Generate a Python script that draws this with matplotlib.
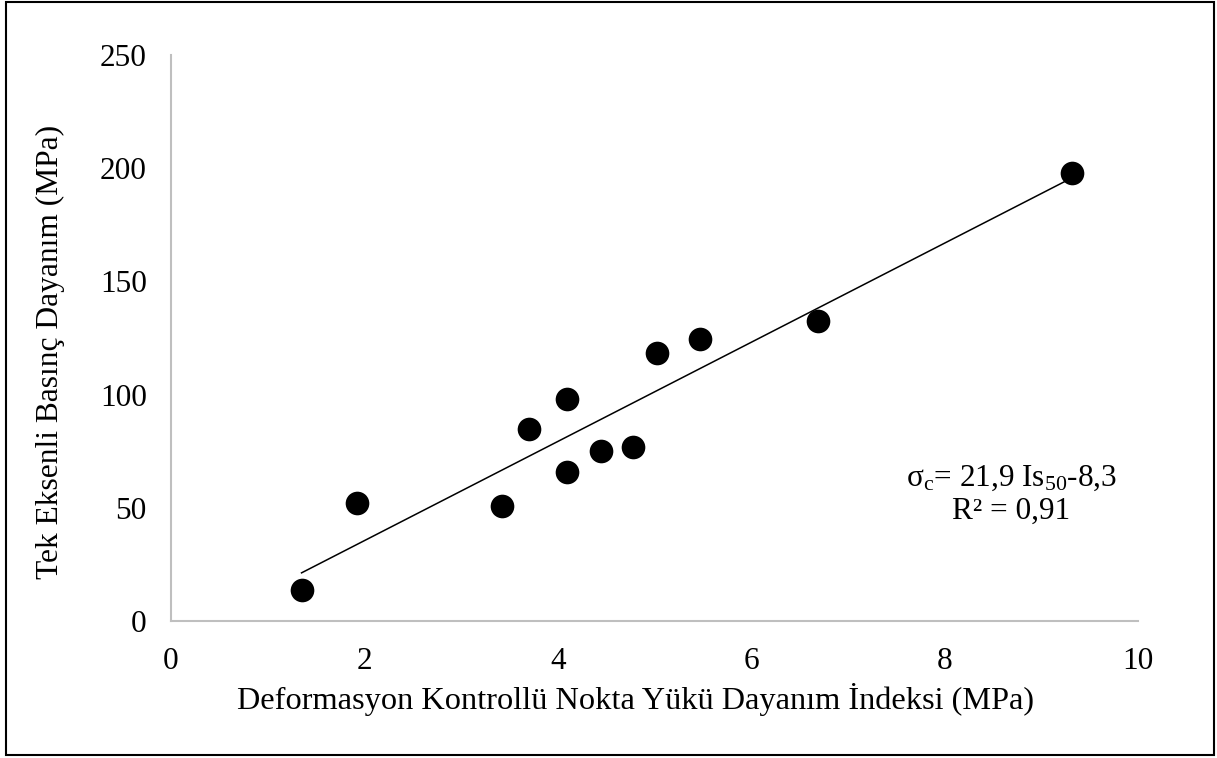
import matplotlib
matplotlib.use("Agg")
import matplotlib.pyplot as plt
from matplotlib.patches import Rectangle
import numpy as np

# Data
is50 = [1.35, 1.92, 3.42, 3.70, 4.10, 4.10, 4.45, 4.78, 5.03, 5.47, 6.69, 9.32]
ucs = [13.5, 52.0, 51.0, 85.0, 98.0, 66.0, 75.0, 77.0, 118.5, 124.5, 132.5, 198.0]
slope = 21.9
intercept = -8.3
x_ticks = [0, 2, 4, 6, 8, 10]
y_ticks = [0, 50, 100, 150, 200, 250]
x_label = "Deformasyon Kontrollü Nokta Yükü Dayanım İndeksi (MPa)"
y_label = "Tek Eksenli Basınç Dayanım (MPa)"

plt.rcParams['font.family'] = ['Liberation Serif', 'DejaVu Serif']
plt.rcParams['mathtext.fontset'] = 'custom'
plt.rcParams['mathtext.rm'] = 'Liberation Serif'
plt.rcParams['mathtext.it'] = 'Liberation Serif:italic'

W, H = 1217, 758
fig = plt.figure(figsize=(W / 100, H / 100), dpi=100)
ax = fig.add_axes([171 / W, 1 - 621 / H, (1138 - 171) / W, (621 - 55) / H])

ax.scatter(is50, ucs, s=290, color='black', zorder=3, linewidths=0)
xl = np.array([min(is50), max(is50)])
ax.plot(xl, slope * xl + intercept, color='black', lw=1.1, zorder=2)

ax.set_xlim(0, 10)
ax.set_ylim(0, 250)
ax.set_xticks(x_ticks)
ax.set_yticks(y_ticks)
ax.tick_params(length=0, labelsize=22.5)
ax.tick_params(axis='x', pad=19)
ax.tick_params(axis='y', pad=17.5)
for s in ['top', 'right']:
    ax.spines[s].set_visible(False)
for s in ['left', 'bottom']:
    ax.spines[s].set_color('#BFBFBF')
    ax.spines[s].set_linewidth(1.5)

fig.text(635 / W, 1 - 700 / H, x_label, ha='center', va='center', fontsize=23.3)
fig.text(50 / W, 1 - 352 / H, y_label, ha='center', va='center', rotation=90, fontsize=22.7)

ax.text(1012 / W, 1 - 478 / H, r'σ$_{\rm c}$= 21,9 Is$_{\rm 50}$-8,3',
        transform=fig.transFigure, ha='center', va='center', fontsize=22.5)
ax.text(1011 / W, 1 - 511 / H, 'R² = 0,91',
        transform=fig.transFigure, ha='center', va='center', fontsize=22.5)

fig.patches.append(Rectangle((6 / W, 1 - 755 / H), (1214 - 6) / W, (755 - 2) / H,
                             transform=fig.transFigure, fill=False,
                             edgecolor='black', lw=1.5))

fig.savefig('out.png', dpi=100)
